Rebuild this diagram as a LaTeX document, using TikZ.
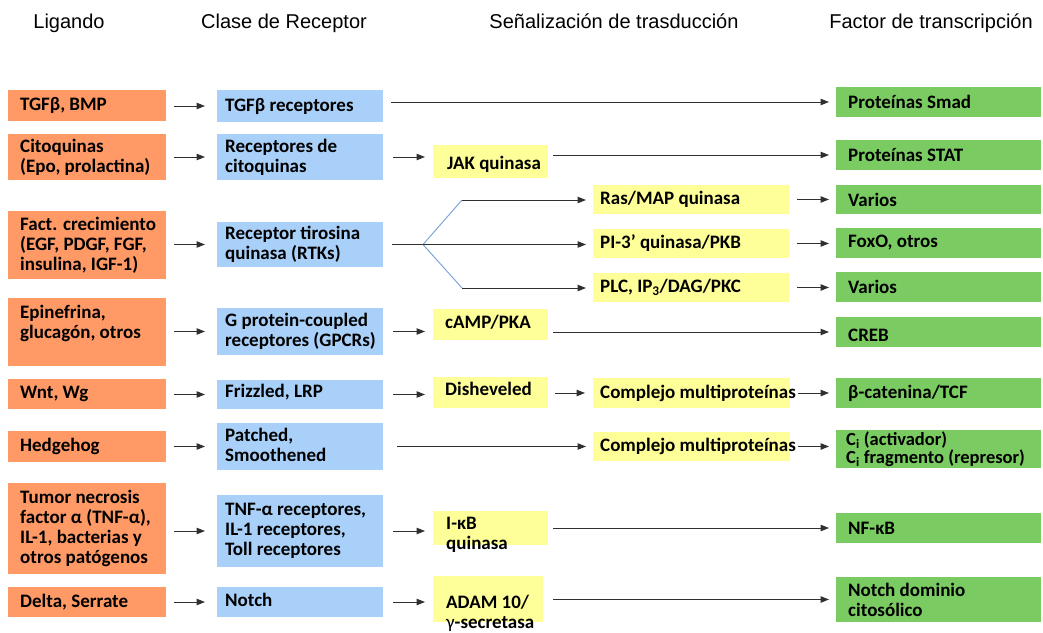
\documentclass[tikz,border=0pt]{standalone}
\usepackage{fontspec}
\setmainfont{Carlito}
\newfontfamily\hdfont{Liberation Sans}
\usetikzlibrary{arrows.meta}
\definecolor{ligc}{HTML}{FF9966}
\definecolor{recc}{HTML}{A8D0F8}
\definecolor{sigc}{HTML}{FFFF99}
\definecolor{tfc}{HTML}{7ACB62}
\definecolor{brc}{HTML}{7FA6D6}
\definecolor{arc}{HTML}{303030}
% \drawbox[label options]{style}{name}{x1}{y1}{x2}{y2}{left pad}{text}
\newcommand\drawbox[9][]{%
  \pgfmathsetmacro\BoxW{#6-#4}\pgfmathsetmacro\BoxH{#7-#5}%
  \node[#2, anchor=north west, minimum width=\BoxW pt, minimum height=\BoxH pt,
        label={[lbl, xshift=#8pt, #1]west:{#9}}] (#3) at (#4,#5) {};}
\tikzset{
  box/.style={rectangle, inner sep=0pt, outer sep=0pt},
  lbl/.style={anchor=west, inner sep=0pt, align=left, label distance=0pt,
              font=\fontsize{19}{20}\selectfont\bfseries},
  lig/.style={box, fill=ligc},
  rec/.style={box, fill=recc},
  sig/.style={box, fill=sigc},
  tf/.style={box, fill=tfc},
  hd/.style={font=\hdfont\fontsize{20}{22}\selectfont, inner sep=0pt, anchor=base},
  arr/.style={draw=arc, line width=1pt, -{Triangle[length=8.5pt,width=6.5pt]}},
  plain/.style={draw=arc, line width=1pt},
  brl/.style={draw=brc, line width=1pt},
}
\begin{document}
\begin{tikzpicture}[x=1pt,y=-1pt]
\useasboundingbox (0,0) rectangle (1043,632);
% headers
\node[hd] (h1) at (69,28) {Ligando};
\node[hd] (h2) at (284,28) {Clase de Receptor};
\node[hd] (h3) at (614,28) {Señalización de trasducción};
\node[hd] (h4) at (931,28) {Factor de transcripción};
% ligands
\drawbox{lig}{o1}{8}{90}{166}{121}{12}{TGFβ, BMP}
\drawbox{lig}{o2}{8}{134}{166}{180}{12}{Citoquinas\\(Epo, prolactina)}
\drawbox{lig}{o3}{8}{211}{166}{279}{12}{Fact. crecimiento\\(EGF, PDGF, FGF,\\insulina, IGF-1)}
\drawbox[yshift=9pt]{lig}{o4}{8}{298}{166}{366}{12}{Epinefrina,\\glucagón, otros}
\drawbox{lig}{o5}{8}{379}{166}{409}{12}{Wnt, Wg}
\drawbox{lig}{o6}{8}{431}{166}{462}{12}{Hedgehog}
\drawbox{lig}{o7}{8}{483}{166}{574}{12}{Tumor necrosis\\factor α (TNF-α),\\IL-1, bacterias y\\otros patógenos}
\drawbox{lig}{o8}{8}{587}{166}{617}{12}{Delta, Serrate}
% receptors
\drawbox{rec}{r1}{217}{90}{383}{122}{8}{TGFβ receptores}
\drawbox{rec}{r2}{217}{134}{383}{180}{8}{Receptores de\\citoquinas}
\drawbox{rec}{r3}{217}{222}{383}{267}{8}{Receptor tirosina\\quinasa (RTKs)}
\drawbox{rec}{r4}{217}{308}{383}{355}{8}{G protein-coupled\\receptores (GPCRs)}
\drawbox[yshift=2pt]{rec}{r5}{217}{380}{383}{409}{8}{Frizzled, LRP}
\drawbox[yshift=1.5pt]{rec}{r6}{217}{423}{383}{470}{8}{Patched,\\Smoothened}
\drawbox{rec}{r7}{217}{495}{383}{567}{8}{TNF-α receptores,\\IL-1 receptores,\\Toll receptores}
\drawbox[yshift=2pt]{rec}{r8}{217}{587}{383}{617}{8}{Notch}
% signalling, first column
\drawbox[yshift=-3pt]{sig}{s1}{433}{145}{548}{178}{14}{JAK quinasa}
\drawbox[yshift=2pt]{sig}{s4}{433}{309}{548}{340}{12}{cAMP/PKA}
\drawbox[yshift=4pt]{sig}{s5}{433}{377}{548}{408}{12}{Disheveled}
\node[sig, anchor=north west, minimum width=115pt, minimum height=34pt,
      label={[lbl, anchor=north west, xshift=13pt, yshift=-6pt]north west:{I-κB\\quinasa}}] (s7) at (433,511) {};
\node[sig, anchor=north west, minimum width=110pt, minimum height=46pt,
      label={[lbl, anchor=north west, xshift=13pt, yshift=-19pt]north west:{ADAM 10/\\{\mdseries γ}-secretasa}}] (s8) at (433,576) {};
% signalling, second column
\drawbox{sig}{p1}{593}{185}{789}{214}{7}{Ras/MAP quinasa}
\drawbox{sig}{p2}{593}{229}{789}{258}{7}{PI-3’ quinasa/PKB}
\drawbox{sig}{p3}{593}{273}{789}{302}{7}{PLC, IP\textsubscript{3}/DAG/PKC}
\drawbox{sig}{p5}{593}{378}{790}{408}{7}{Complejo multiproteínas}
\drawbox{sig}{p6}{593}{432}{790}{461}{7}{Complejo multiproteínas}
% transcription factors
\drawbox{tf}{t1}{836}{87}{1041}{117}{12}{Proteínas Smad}
\drawbox{tf}{t2}{836}{140}{1041}{170}{12}{Proteínas STAT}
\drawbox{tf}{t3}{836}{185}{1041}{214}{12}{Varios}
\drawbox{tf}{t4}{836}{228}{1041}{258}{12}{FoxO, otros}
\drawbox{tf}{t5}{836}{272}{1041}{302}{12}{Varios}
\drawbox[yshift=-3pt]{tf}{t6}{836}{317}{1041}{347}{12}{CREB}
\drawbox{tf}{t7}{836}{378}{1041}{408}{12}{β-catenina/TCF}
\drawbox[font=\fontsize{18.5}{14.5}\selectfont\bfseries, xshift=10pt]{tf}{t8}{836}{430}{1041}{468}{0}{C\textsubscript{i} (activador)\\C\textsubscript{i} fragmento (represor)}
\drawbox{tf}{t9}{836}{513}{1041}{543}{12}{NF-κB}
\drawbox{tf}{t10}{836}{577}{1041}{622}{12}{Notch dominio\\citosólico}
% ligand -> receptor
\foreach \i in {1,...,8}{
  \draw[arr, shorten <=8pt, shorten >=12pt] (o\i.east |- r\i.west) -- (r\i.west);
}
% receptor -> signalling
\draw[arr, shorten <=8pt, shorten >=7pt] (r1.east |- t1.west) -- (t1.west);
\draw[arr, shorten <=10pt, shorten >=8pt] (r2.east) -- (r2.east -| s1.west);
\draw[arr, shorten <=10pt, shorten >=8pt] (r4.east) -- (r4.east -| s4.west);
\draw[arr, shorten <=10pt, shorten >=8pt] (r5.east) -- (r5.east -| s5.west);
\draw[arr, shorten <=10pt, shorten >=8pt] (r7.east) -- (r7.east -| s7.west);
\draw[arr, shorten <=10pt, shorten >=8pt] (r8.east) -- (r8.east -| s8.west);
\draw[arr, shorten <=14pt, shorten >=7pt] (r6.east) -- (r6.east -| p6.west);
% RTK branch
\coordinate (br) at (423,244.5);
\coordinate (bu) at (462,200);
\coordinate (bd) at (462,288);
\draw[plain, shorten <=9pt] (r3.east) -- (br);
\draw[brl] (br) -- (bu);
\draw[brl] (br) -- (bd);
\draw[arr, shorten >=7pt] (bu) -- (bu -| p1.west);
\draw[arr, shorten >=7pt] (br) -- (br -| p2.west);
\draw[arr, shorten >=7pt] (bd) -- (bd -| p3.west);
% signalling -> transcription factor
\draw[arr, shorten <=5pt, shorten >=7pt] (s1.east |- t2.west) -- (t2.west);
\draw[arr, shorten <=5pt, shorten >=7pt] (s4.east |- t6.west) -- (t6.west);
\draw[arr, shorten <=5pt, shorten >=7pt] (s7.east |- t9.west) -- (t9.west);
\draw[arr, shorten <=10pt, shorten >=7pt] (s8.east |- t10.west) -- (t10.west);
\draw[arr, shorten <=7pt, shorten >=8pt] (s5.east |- p5.west) -- (p5.west);
\draw[arr, shorten <=8pt, shorten >=7pt] (p1.east) -- (p1.east -| t3.west);
\draw[arr, shorten <=8pt, shorten >=7pt] (p2.east) -- (p2.east -| t4.west);
\draw[arr, shorten <=8pt, shorten >=7pt] (p3.east) -- (p3.east -| t5.west);
\draw[arr, shorten <=8pt, shorten >=7pt] (p5.east) -- (p5.east -| t7.west);
\draw[arr, shorten <=8pt, shorten >=7pt] (p6.east) -- (p6.east -| t8.west);
\end{tikzpicture}
\end{document}
